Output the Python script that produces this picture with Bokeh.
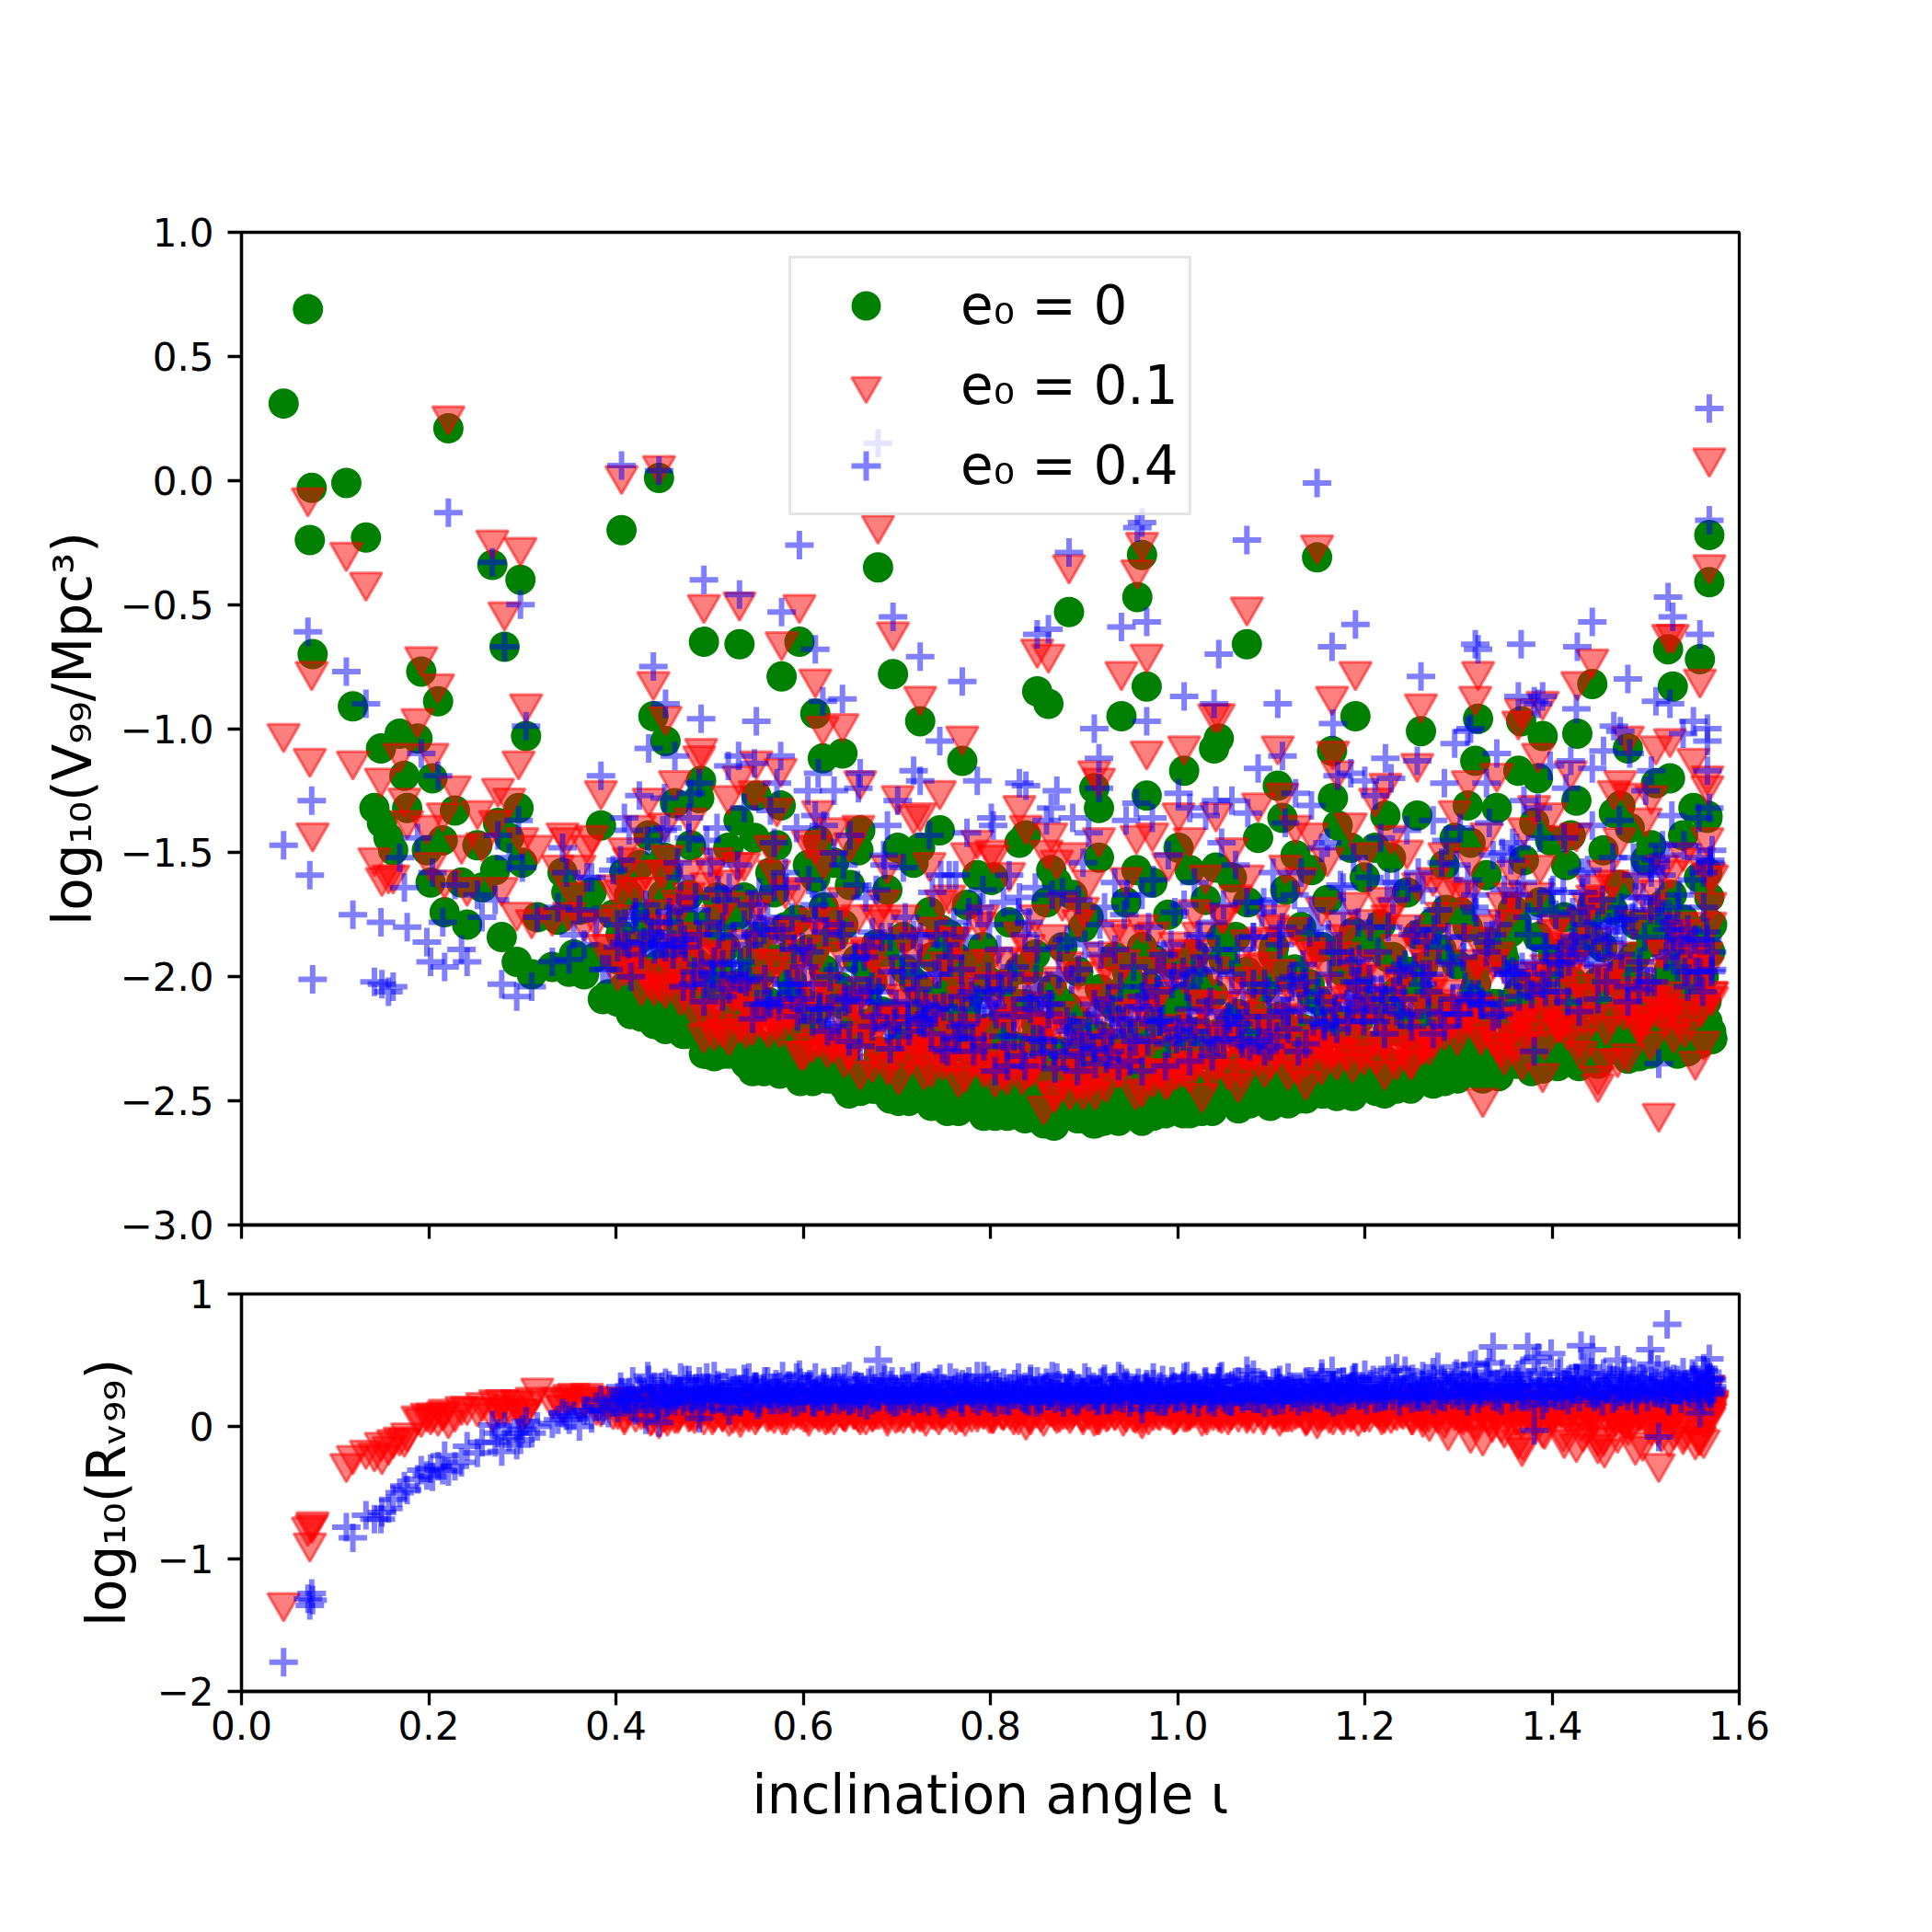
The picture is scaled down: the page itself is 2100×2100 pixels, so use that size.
import numpy as np
from bokeh.plotting import figure
from bokeh.layouts import column
from bokeh.models import Range1d, FixedTicker, Legend, LegendItem
from bokeh.embed import file_html
from bokeh.resources import INLINE

# ---------------- data ----------------
# inclination angle of each simulated source (shared by all three eccentricities)
inclination = [
    0.045, 0.071, 0.075, 0.073, 0.076, 0.112, 0.133, 0.119, 0.221, 0.192,
    0.210, 0.268, 0.298, 0.281, 0.304, 0.149, 0.142, 0.150, 0.157, 0.162,
    0.169, 0.174, 0.177, 0.188, 0.198, 0.204, 0.215, 0.202, 0.228, 0.217,
    0.235, 0.252, 0.241, 0.257, 0.271, 0.278, 0.286, 0.274, 0.296, 0.300,
    0.294, 0.310, 0.316, 0.350, 0.347, 0.369, 0.384, 0.386, 0.406, 0.446,
    0.440, 0.453, 0.435, 0.416, 0.494, 0.489, 0.532, 0.550, 0.577, 0.596,
    0.572, 0.613, 0.621, 0.613, 0.642, 0.659, 0.680, 0.696, 0.725, 0.725,
    0.770, 0.747, 0.801, 0.838, 0.850, 0.862, 0.884, 0.865, 0.911, 0.916,
    0.940, 0.957, 0.962, 0.967, 0.967, 1.007, 1.013, 1.039, 1.044, 1.074,
    1.107, 1.112, 1.149, 1.165, 1.166, 1.190, 1.185, 1.260, 1.310, 1.318,
    1.321, 1.367, 1.364, 1.385, 1.390, 1.427, 1.443, 1.420, 1.481, 1.473,
    1.524, 1.529, 1.558, 1.568, 1.568, 1.566, 1.566, 1.571, 1.506, 1.222,
    1.526,
    0.332, 0.338, 0.343, 0.355, 0.361, 0.366, 0.374, 0.379, 0.392, 0.397,
    0.402, 0.409, 0.413, 0.421, 0.427, 0.432, 0.438, 0.443, 0.449, 0.455,
    0.461, 0.467, 0.472, 0.478, 0.484, 0.491, 0.497, 0.503, 0.509, 0.514,
    0.521, 0.526, 0.533, 0.539, 0.545, 0.551, 0.558, 0.563, 0.569, 0.575,
    0.582, 0.588, 0.594, 0.601, 0.607, 0.612, 0.618, 0.624, 0.631, 0.637,
    0.643, 0.649, 0.655, 0.662, 0.668, 0.674, 0.681, 0.687, 0.693, 0.699,
    0.706, 0.712, 0.718, 0.724, 0.731, 0.737, 0.743, 0.749, 0.756, 0.762,
    0.768, 0.774, 0.781, 0.787, 0.793, 0.799, 0.806, 0.812, 0.818, 0.825,
    0.831, 0.837, 0.843, 0.849, 0.856, 0.862, 0.868, 0.874, 0.881, 0.887,
    0.893, 0.899, 0.905, 0.912, 0.918, 0.924, 0.930, 0.937, 0.943, 0.949,
    0.955, 0.962, 0.968, 0.974, 0.981, 0.987, 0.993, 0.999, 1.006, 1.012,
    1.018, 1.024, 1.031, 1.037, 1.043, 1.049, 1.056, 1.062, 1.068, 1.074,
    1.081, 1.087, 1.093, 1.099, 1.106, 1.112, 1.118, 1.124, 1.131, 1.137,
    1.143, 1.149, 1.156, 1.162, 1.168, 1.174, 1.181, 1.187, 1.193, 1.199,
    1.206, 1.212, 1.218, 1.224, 1.231, 1.237, 1.243, 1.249, 1.256, 1.262,
    1.268, 1.274, 1.281, 1.287, 1.293, 1.299, 1.306, 1.312, 1.318, 1.324,
    1.331, 1.337, 1.343, 1.349, 1.356, 1.362, 1.368, 1.374, 1.381, 1.387,
    1.393, 1.399, 1.406, 1.412, 1.418, 1.424, 1.431, 1.437, 1.443, 1.449,
    1.456, 1.462, 1.468, 1.474, 1.481, 1.487, 1.493, 1.499, 1.505, 1.511,
    1.514, 1.518, 1.523, 1.530, 1.536, 1.542, 1.548, 1.553, 1.558, 1.562,
    1.566, 1.569, 1.571,
    0.402, 0.405, 0.409, 0.414, 0.418, 0.421, 0.425, 0.430, 0.434, 0.437,
    0.441, 0.446, 0.450, 0.453, 0.457, 0.462, 0.466, 0.469, 0.473, 0.478,
    0.482, 0.485, 0.489, 0.494, 0.498, 0.501, 0.505, 0.510, 0.514, 0.517,
    0.521, 0.526, 0.530, 0.533, 0.537, 0.542, 0.546, 0.549, 0.553, 0.558,
    0.562, 0.565, 0.569, 0.574, 0.578, 0.581, 0.585, 0.590, 0.594, 0.597,
    0.601, 0.606, 0.610, 0.613, 0.617, 0.622, 0.626, 0.629, 0.633, 0.638,
    0.642, 0.645, 0.649, 0.654, 0.658, 0.661, 0.665, 0.670, 0.674, 0.677,
    0.681, 0.686, 0.690, 0.693, 0.697, 0.702, 0.706, 0.709, 0.713, 0.718,
    0.722, 0.725, 0.729, 0.734, 0.738, 0.741, 0.745, 0.750, 0.754, 0.757,
    0.761, 0.766, 0.770, 0.773, 0.777, 0.782, 0.786, 0.789, 0.793, 0.798,
    0.802, 0.805, 0.809, 0.814, 0.818, 0.821, 0.825, 0.830, 0.834, 0.837,
    0.841, 0.846, 0.850, 0.853, 0.857, 0.862, 0.866, 0.869, 0.873, 0.878,
    0.882, 0.885, 0.889, 0.894, 0.898, 0.901, 0.905, 0.910, 0.914, 0.917,
    0.921, 0.926, 0.930, 0.933, 0.937, 0.942, 0.946, 0.949, 0.953, 0.958,
    0.962, 0.965, 0.969, 0.974, 0.978, 0.981, 0.985, 0.990, 0.994, 0.997,
    1.001, 1.006, 1.010, 1.013, 1.017, 1.022, 1.026, 1.029, 1.033, 1.038,
    1.042, 1.045, 1.049, 1.054, 1.058, 1.061, 1.065, 1.070, 1.074, 1.077,
    1.081, 1.086, 1.090, 1.093, 1.097, 1.102, 1.106, 1.109, 1.113, 1.118,
    1.122, 1.125, 1.129, 1.134, 1.138, 1.141, 1.145, 1.150, 1.154, 1.157,
    1.161, 1.166, 1.170, 1.173, 1.177, 1.182, 1.186, 1.189, 1.193, 1.198,
    1.202, 1.205, 1.209, 1.214, 1.218, 1.221, 1.225, 1.230, 1.234, 1.237,
    1.241, 1.246, 1.250, 1.253, 1.257, 1.262, 1.266, 1.269, 1.273, 1.278,
    1.282, 1.285, 1.289, 1.294, 1.298, 1.301, 1.305, 1.310, 1.314, 1.317,
    1.321, 1.326, 1.330, 1.333, 1.337, 1.342, 1.346, 1.349, 1.353, 1.358,
    1.362, 1.365, 1.369, 1.374, 1.378, 1.381, 1.385, 1.390, 1.394, 1.397,
    1.401, 1.406, 1.410, 1.413, 1.417, 1.422, 1.426, 1.429, 1.433, 1.438,
    1.442, 1.445, 1.449, 1.454, 1.458, 1.461, 1.465, 1.470, 1.474, 1.477,
    1.481, 1.486, 1.490, 1.493, 1.497, 1.502, 1.506, 1.509, 1.513, 1.518,
    1.522, 1.525, 1.529, 1.534, 1.538, 1.541, 1.545, 1.550, 1.554, 1.557,
    1.561, 1.565, 1.568, 1.570,
    0.452, 0.457, 0.463, 0.469, 0.474, 0.480, 0.486, 0.491, 0.497, 0.503,
    0.508, 0.514, 0.520, 0.525, 0.531, 0.537, 0.542, 0.548, 0.554, 0.559,
    0.565, 0.571, 0.576, 0.582, 0.588, 0.593, 0.599, 0.605, 0.610, 0.616,
    0.622, 0.627, 0.633, 0.639, 0.644, 0.650, 0.656, 0.661, 0.667, 0.673,
    0.678, 0.684, 0.690, 0.695, 0.701, 0.707, 0.712, 0.718, 0.724, 0.729,
    0.735, 0.741, 0.746, 0.752, 0.758, 0.763, 0.769, 0.775, 0.780, 0.786,
    0.792, 0.797, 0.803, 0.809, 0.814, 0.820, 0.826, 0.831, 0.837, 0.843,
    0.848, 0.854, 0.860, 0.865, 0.871, 0.877, 0.882, 0.888, 0.894, 0.899,
    0.905, 0.911, 0.916, 0.922, 0.928, 0.933, 0.939, 0.945, 0.950, 0.956,
    0.962, 0.967, 0.973, 0.979, 0.984, 0.990, 0.996, 1.001, 1.007, 1.013,
    1.018, 1.024, 1.030, 1.035, 1.041, 1.047, 1.052, 1.058, 1.064, 1.069,
    1.075, 1.081, 1.086, 1.092, 1.098, 1.103, 1.109, 1.115, 1.120, 1.126,
    1.132, 1.137, 1.143, 1.149, 1.154, 1.160, 1.166, 1.171, 1.177, 1.183,
    1.188, 1.194, 1.200, 1.205, 1.211, 1.217, 1.222, 1.228, 1.234, 1.239,
    1.245, 1.251, 1.256, 1.262, 1.268, 1.273, 1.279, 1.285, 1.290, 1.296,
    1.302, 1.307, 1.313, 1.319, 1.324, 1.330, 1.336, 1.341, 1.347, 1.353,
    1.358, 1.364, 1.370, 1.375, 1.381, 1.387, 1.392, 1.398, 1.404, 1.409,
    1.415, 1.421, 1.426, 1.432, 1.438, 1.443, 1.449, 1.455, 1.460, 1.466,
    1.472, 1.477, 1.483, 1.489, 1.494, 1.500, 1.506, 1.511, 1.517, 1.523,
    1.528, 1.534, 1.540, 1.545, 1.551, 1.557, 1.562, 1.566, 1.569, 1.571,
]

# log10(V99 / Mpc^3) for e0 = 0
log_v99_e0 = [
    0.31, 0.69, -0.03, -0.24, -0.70, -0.01, -0.23, -0.91, 0.21, -0.77,
    -0.89, -0.34, -0.40, -0.67, -1.03, -1.08, -1.32, -1.38, -1.44, -1.49,
    -1.02, -1.19, -1.32, -1.04, -1.49, -1.20, -1.45, -1.62, -1.33, -1.74,
    -1.62, -1.47, -1.79, -1.64, -1.57, -1.84, -1.44, -1.38, -1.32, -1.54,
    -1.94, -1.99, -1.76, -1.98, -1.66, -1.72, -1.39, -2.09, -0.20, 0.01,
    -0.95, -1.05, -1.43, -2.15, -0.65, -1.28, -0.66, -1.27, -0.79, -0.65,
    -1.47, -0.94, -1.12, -1.60, -1.10, -1.49, -0.35, -0.78, -0.97, -1.48,
    -1.13, -1.81, -1.61, -1.43, -0.85, -0.90, -0.53, -1.57, -1.24, -1.32,
    -0.95, -0.47, -0.30, -0.83, -1.27, -1.17, -1.57, -1.08, -1.04, -0.66,
    -1.23, -1.36, -0.31, -1.09, -1.28, -0.95, -1.48, -1.01, -1.31, -1.13,
    -0.96, -0.97, -1.17, -1.20, -1.03, -1.02, -0.82, -1.43, -1.08, -1.31,
    -0.68, -0.83, -0.72, -0.22, -0.41, -1.36, -1.58, -1.79, -1.47, -1.35,
    -1.20,
    -1.96, -1.77, -1.58, -1.91, -1.73, -1.99, -1.66, -1.92, -2.07, -1.75,
    -1.93, -1.58, -2.07, -1.86, -2.16, -1.76, -2.10, -2.03, -2.17, -1.58,
    -2.13, -1.98, -2.23, -1.79, -2.22, -2.09, -2.31, -2.19, -1.96, -2.31,
    -1.76, -2.26, -2.12, -2.35, -1.93, -2.27, -2.10, -2.34, -1.66, -2.39,
    -2.24, -2.02, -2.35, -2.40, -2.22, -1.89, -2.35, -2.10, -2.41, -2.31,
    -1.79, -2.45, -2.20, -2.40, -2.04, -2.45, -2.32, -1.90, -2.49, -2.39,
    -2.21, -2.47, -2.02, -2.43, -2.33, -2.52, -2.16, -2.46, -1.83, -2.52,
    -2.41, -2.14, -2.50, -2.32, -2.56, -2.02, -2.47, -2.25, -2.54, -2.40,
    -1.97, -2.57, -2.47, -2.19, -2.53, -2.38, -2.60, -2.10, -2.51, -2.32,
    -2.57, -1.80, -2.46, -2.59, -2.24, -2.53, -2.40, -2.58, -2.05, -2.49,
    -2.55, -2.29, -2.52, -1.93, -2.42, -2.55, -2.15, -2.48, -2.55, -2.33,
    -2.49, -2.08, -2.44, -2.54, -2.23, -2.50, -2.36, -1.84, -2.51, -2.39,
    -2.15, -2.47, -2.31, -2.52, -2.42, -2.00, -2.48, -2.25, -2.43, -2.49,
    -2.07, -2.38, -2.47, -2.20, -2.44, -1.89, -2.34, -2.48, -2.29, -2.42,
    -2.12, -2.46, -2.34, -1.92, -2.43, -2.22, -2.37, -2.45, -2.05, -2.34,
    -2.41, -2.16, -2.38, -1.73, -2.28, -2.41, -2.22, -2.34, -1.97, -2.37,
    -2.27, -2.11, -2.40, -2.30, -1.82, -2.35, -2.18, -2.36, -2.27, -2.04,
    -2.32, -2.21, -2.36, -1.90, -2.29, -2.12, -2.33, -2.23, -1.74, -2.35,
    -2.16, -2.29, -2.02, -2.24, -2.31, -1.92, -2.26, -2.18, -2.31, -1.78,
    -2.27, -2.07, -2.28, -2.20, -1.94, -2.30, -2.11, -2.23, -2.27, -2.00,
    -2.18, -1.80, -2.25,
    -2.10, -1.83, -2.04, -1.67, -2.11, -1.96, -1.55, -2.10, -1.83, -2.05,
    -2.19, -1.95, -1.67, -2.21, -1.94, -2.15, -1.78, -2.22, -2.07, -1.67,
    -2.21, -1.94, -2.17, -2.31, -2.07, -1.78, -2.32, -2.05, -2.25, -1.88,
    -2.31, -2.17, -1.75, -2.29, -2.02, -2.24, -2.38, -2.13, -1.84, -2.38,
    -2.10, -2.31, -1.93, -2.36, -2.22, -1.80, -2.34, -2.07, -2.29, -2.42,
    -2.17, -1.89, -2.42, -2.14, -2.35, -1.97, -2.41, -2.26, -1.84, -2.39,
    -2.11, -2.33, -2.47, -2.22, -1.93, -2.46, -2.19, -2.39, -2.02, -2.45,
    -2.30, -1.88, -2.43, -2.15, -2.37, -2.50, -2.26, -1.97, -2.50, -2.23,
    -2.43, -2.05, -2.49, -2.34, -1.92, -2.46, -2.19, -2.41, -2.54, -2.29,
    -2.00, -2.54, -2.26, -2.46, -2.08, -2.51, -2.37, -1.95, -2.49, -2.21,
    -2.43, -2.56, -2.32, -2.03, -2.56, -2.28, -2.48, -2.11, -2.54, -2.39,
    -1.97, -2.51, -2.23, -2.46, -2.59, -2.34, -2.05, -2.58, -2.30, -2.50,
    -2.12, -2.55, -2.40, -1.98, -2.52, -2.24, -2.46, -2.59, -2.34, -2.05,
    -2.58, -2.30, -2.50, -2.12, -2.55, -2.40, -1.98, -2.52, -2.23, -2.45,
    -2.58, -2.33, -2.04, -2.56, -2.28, -2.48, -2.10, -2.53, -2.37, -1.95,
    -2.49, -2.21, -2.42, -2.55, -2.30, -2.01, -2.54, -2.25, -2.45, -2.07,
    -2.50, -2.35, -1.93, -2.46, -2.18, -2.40, -2.53, -2.27, -1.98, -2.51,
    -2.23, -2.43, -2.05, -2.48, -2.33, -1.91, -2.44, -2.16, -2.38, -2.51,
    -2.26, -1.97, -2.49, -2.21, -2.41, -2.03, -2.46, -2.30, -1.88, -2.42,
    -2.14, -2.36, -2.48, -2.23, -1.94, -2.47, -2.19, -2.39, -2.01, -2.44,
    -2.29, -1.87, -2.40, -2.12, -2.34, -2.47, -2.22, -1.92, -2.45, -2.17,
    -2.37, -1.98, -2.41, -2.26, -1.83, -2.37, -2.09, -2.31, -2.43, -2.18,
    -1.89, -2.42, -2.13, -2.33, -1.95, -2.38, -2.23, -1.80, -2.34, -2.06,
    -2.28, -2.41, -2.16, -1.86, -2.39, -2.11, -2.31, -1.93, -2.35, -2.20,
    -1.78, -2.32, -2.04, -2.26, -2.38, -2.13, -1.84, -2.37, -2.09, -2.29,
    -1.91, -2.34, -2.18, -1.76, -2.30, -2.02, -2.24, -2.36, -2.11, -1.82,
    -2.34, -2.06, -2.26, -1.88, -2.30, -2.15, -1.73, -2.27, -1.98, -2.20,
    -2.33, -2.08, -1.79, -2.32, -2.04, -2.24, -1.86, -2.28, -2.13, -1.71,
    -2.25, -1.97, -2.18, -2.31, -2.06, -1.77, -2.30, -2.01, -2.21, -1.83,
    -2.26, -2.10, -1.68, -2.22,
    -1.52, -2.09, -1.30, -1.87, -2.23, -1.47, -2.02, -1.21, -1.82, -2.21,
    -1.68, -2.02, -1.48, -2.14, -1.37, -1.68, -2.23, -1.44, -1.99, -2.35,
    -1.58, -2.13, -1.31, -1.92, -2.30, -1.77, -2.10, -1.55, -2.22, -1.45,
    -1.72, -2.34, -1.54, -2.04, -2.44, -1.63, -2.23, -1.41, -1.96, -2.39,
    -1.87, -2.14, -1.65, -2.32, -1.48, -1.84, -2.34, -1.54, -2.16, -2.46,
    -1.74, -2.23, -1.41, -2.07, -2.40, -1.92, -2.19, -1.71, -2.31, -1.59,
    -1.88, -2.40, -1.60, -2.19, -2.50, -1.78, -2.28, -1.46, -2.11, -2.45,
    -1.91, -2.28, -1.70, -2.36, -1.62, -1.88, -2.47, -1.67, -2.18, -2.57,
    -1.76, -2.34, -1.52, -2.08, -2.50, -1.92, -2.29, -1.70, -2.39, -1.57,
    -1.88, -2.45, -1.62, -2.17, -2.52, -1.75, -2.30, -1.48, -2.08, -2.46,
    -1.91, -2.22, -1.69, -2.32, -1.56, -1.84, -2.39, -1.60, -2.15, -2.50,
    -1.70, -2.24, -1.44, -2.02, -2.40, -1.88, -2.18, -1.65, -2.31, -1.51,
    -1.80, -2.35, -1.57, -2.09, -2.47, -1.69, -2.21, -1.39, -1.98, -2.36,
    -1.82, -2.17, -1.60, -2.28, -1.48, -1.79, -2.34, -1.52, -2.06, -2.41,
    -1.66, -2.19, -1.35, -1.96, -2.34, -1.78, -2.12, -1.55, -2.21, -1.44,
    -1.74, -2.27, -1.46, -2.03, -2.36, -1.59, -2.14, -1.32, -1.90, -2.27,
    -1.73, -2.06, -1.53, -2.16, -1.38, -1.70, -2.23, -1.45, -1.98, -2.33,
    -1.55, -2.11, -1.29, -1.86, -2.24, -1.71, -2.02, -1.49, -2.14, -1.34,
    -1.63, -2.20, -1.40, -1.92, -2.30, -1.53, -2.05, -1.22, -1.84, -2.20,
    -1.67, -1.99, -1.43, -2.10, -1.32, -1.60, -2.16, -1.35, -1.90, -2.25,
]

# log10(R_V99) = log10(V99(e0) / V99(e0 = 0)), e0 = 0.1
log_rv99_e01 = [
    -1.33, -0.76, -0.74, -0.88, -0.72, -0.28, -0.18, -0.22, 0.05, 0.06,
    0.07, 0.10, 0.13, 0.14, 0.13, -0.12, -0.20, -0.22, -0.15, -0.10,
    -0.08, -0.09, -0.05, 0.08, 0.10, 0.10, 0.11, 0.08, 0.10, 0.13,
    0.15, 0.14, 0.15, 0.18, 0.20, 0.20, 0.16, 0.14, 0.19, 0.10,
    0.20, 0.22, 0.29, 0.24, 0.22, 0.25, 0.14, 0.22, 0.22, 0.05,
    0.14, 0.10, 0.15, 0.20, 0.15, 0.17, 0.17, 0.14, 0.14, 0.15,
    0.15, 0.14, 0.13, 0.13, 0.12, 0.10, 0.17, 0.17, 0.10, 0.14,
    0.10, 0.12, 0.12, 0.04, 0.17, 0.20, 0.19, 0.15, 0.07, 0.12,
    0.18, 0.11, 0.05, 0.13, 0.18, 0.10, 0.13, 0.14, 0.10, 0.15,
    0.16, 0.10, 0.05, 0.22, 0.19, 0.18, 0.10, 0.11, 0.10, 0.26,
    0.19, 0.05, 0.20, 0.10, 0.14, 0.21, 0.10, 0.26, 0.05, 0.10,
    0.06, 0.21, -0.08, 0.31, 0.07, 0.13, 0.14, 0.20, 0.20, 0.13,
    0.16,
    0.20, 0.22, 0.16, 0.25, 0.18, 0.21, 0.23, 0.15, 0.20, 0.12,
    0.18, 0.10, 0.15, 0.22, 0.12, 0.19, 0.08, 0.24, 0.14, 0.07,
    0.17, 0.11, 0.20, 0.13, 0.09, 0.18, 0.16, 0.12, 0.21, 0.10,
    0.15, 0.19, 0.06, 0.14, 0.20, 0.11, 0.17, 0.13, 0.09, 0.18,
    0.12, 0.22, 0.15, 0.10, 0.16, 0.13, 0.20, 0.08, 0.14, 0.18,
    0.11, 0.16, 0.12, 0.21, 0.15, 0.10, 0.17, 0.13, 0.19, 0.09,
    0.14, 0.18, 0.11, 0.22, 0.07, 0.15, 0.19, 0.12, 0.16, 0.20,
    0.10, 0.14, 0.17, 0.13, 0.21, 0.09, 0.16, 0.12, 0.18, 0.08,
    0.15, 0.19, 0.11, 0.17, 0.13, 0.20, 0.14, 0.10, 0.18, 0.12,
    0.16, 0.08, 0.19, 0.13, 0.17, 0.10, 0.15, 0.21, 0.12, 0.16,
    0.09, 0.18, 0.14, 0.11, 0.20, 0.13, 0.16, 0.10, 0.18, 0.12,
    0.15, 0.19, 0.08, 0.16, 0.13, 0.21, 0.11, 0.17, 0.14, 0.09,
    0.20, 0.15, 0.12, 0.18, 0.13, 0.16, 0.10, 0.19, 0.14, 0.07,
    0.17, 0.12, 0.20, 0.09, 0.15, 0.11, 0.18, 0.13, 0.16, 0.10,
    0.19, 0.14, 0.08, 0.17, 0.12, 0.20, 0.15, 0.11, 0.18, 0.06,
    0.16, 0.13, 0.21, 0.09, 0.14, 0.17, 0.11, 0.19, 0.04, 0.15,
    0.10, 0.18, 0.13, -0.02, 0.16, 0.08, -0.16, 0.12, 0.20, 0.06,
    0.15, 0.10, 0.17, -0.05, 0.13, 0.19, 0.03, 0.16, 0.11, -0.08,
    -0.17, 0.14, 0.07, 0.18, 0.00, 0.15, 0.10, 0.21, 0.05, 0.13,
    -0.28, 0.18, 0.12, -0.03, 0.16, 0.09, 0.20, -0.11, 0.14, 0.06,
    0.22, 0.10, 0.17,
    0.12, 0.18, 0.08, 0.15, 0.21, 0.10, 0.16, 0.13, 0.19, 0.07,
    0.15, 0.22, 0.10, 0.16, 0.11, 0.18, 0.09, 0.14, 0.20, 0.10,
    0.17, 0.12, 0.19, 0.08, 0.15, 0.22, 0.10, 0.16, 0.11, 0.18,
    0.07, 0.15, 0.21, 0.10, 0.17, 0.12, 0.18, 0.08, 0.14, 0.20,
    0.10, 0.16, 0.13, 0.19, 0.08, 0.15, 0.21, 0.11, 0.17, 0.12,
    0.18, 0.07, 0.15, 0.22, 0.10, 0.16, 0.12, 0.19, 0.08, 0.14,
    0.21, 0.10, 0.17, 0.12, 0.18, 0.08, 0.15, 0.20, 0.11, 0.16,
    0.12, 0.19, 0.07, 0.15, 0.21, 0.10, 0.17, 0.13, 0.18, 0.09,
    0.15, 0.20, 0.11, 0.16, 0.12, 0.19, 0.08, 0.14, 0.22, 0.10,
    0.16, 0.13, 0.18, 0.07, 0.15, 0.21, 0.10, 0.17, 0.12, 0.19,
    0.09, 0.15, 0.20, 0.11, 0.16, 0.12, 0.18, 0.08, 0.14, 0.21,
    0.10, 0.17, 0.13, 0.19, 0.07, 0.15, 0.22, 0.11, 0.16, 0.12,
    0.18, 0.09, 0.14, 0.21, 0.10, 0.16, 0.12, 0.19, 0.08, 0.15,
    0.20, 0.11, 0.17, 0.12, 0.18, 0.07, 0.15, 0.21, 0.10, 0.16,
    0.13, 0.19, 0.08, 0.15, 0.20, 0.11, 0.17, 0.12, 0.18, 0.09,
    0.14, 0.22, 0.10, 0.16, 0.13, 0.19, 0.07, 0.15, 0.21, 0.11,
    0.16, 0.12, 0.18, 0.08, 0.14, 0.20, 0.10, 0.17, 0.13, 0.19,
    0.09, 0.15, 0.21, 0.11, 0.16, 0.12, 0.18, 0.07, 0.14, 0.20,
    0.10, 0.17, 0.13, 0.19, 0.08, 0.15, 0.22, 0.10, 0.16, 0.12,
    0.18, 0.08, 0.14, 0.20, 0.11, 0.17, 0.12, 0.19, 0.07, 0.15,
    0.21, 0.10, 0.16, 0.13, 0.18, 0.09, 0.15, 0.20, 0.11, 0.17,
    0.12, 0.19, 0.08, 0.14, 0.21, 0.10, 0.16, 0.03, 0.18, 0.09,
    0.15, 0.20, -0.04, 0.16, 0.12, 0.19, 0.08, 0.14, 0.22, 0.10,
    0.17, -0.08, 0.18, 0.07, 0.15, 0.21, 0.02, 0.16, 0.12, 0.19,
    0.08, 0.15, -0.12, 0.11, 0.17, 0.12, 0.18, -0.02, 0.14, 0.20,
    0.10, 0.16, 0.13, -0.10, 0.08, 0.15, 0.21, 0.11, -0.05, 0.12,
    0.18, 0.07, -0.14, 0.20, 0.10, 0.16, 0.12, -0.06, 0.08, 0.14,
    0.21, 0.04, 0.17, 0.12, -0.12, 0.08, 0.15, 0.20, 0.00, 0.16,
    0.12, -0.09, 0.07, 0.15, 0.21, -0.04, 0.17, 0.13, 0.18, -0.07,
    0.15, 0.20, 0.10, 0.16,
    0.14, 0.19, 0.09, 0.16, 0.22, 0.11, 0.17, 0.13, 0.20, 0.08,
    0.16, 0.12, 0.21, 0.09, 0.18, 0.14, 0.10, 0.19, 0.13, 0.17,
    0.11, 0.20, 0.15, 0.08, 0.17, 0.13, 0.21, 0.10, 0.16, 0.12,
    0.19, 0.09, 0.14, 0.22, 0.11, 0.17, 0.13, 0.20, 0.08, 0.15,
    0.12, 0.18, 0.10, 0.16, 0.21, 0.09, 0.14, 0.19, 0.12, 0.17,
    0.20, 0.11, 0.16, 0.13, 0.18, 0.08, 0.15, 0.21, 0.10, 0.14,
    0.13, 0.19, 0.09, 0.17, 0.12, 0.20, 0.11, 0.15, 0.18, 0.08,
    0.16, 0.10, 0.21, 0.14, 0.09, 0.18, 0.12, 0.17, 0.20, 0.11,
    0.15, 0.22, 0.08, 0.13, 0.19, 0.11, 0.16, 0.10, 0.18, 0.14,
    0.09, 0.17, 0.20, 0.12, 0.15, 0.21, 0.08, 0.14, 0.19, 0.11,
    0.18, 0.13, 0.10, 0.16, 0.22, 0.09, 0.17, 0.12, 0.15, 0.20,
    0.11, 0.19, 0.14, 0.08, 0.18, 0.13, 0.21, 0.10, 0.16, 0.12,
    0.20, 0.09, 0.15, 0.19, 0.11, 0.17, 0.13, 0.22, 0.08, 0.14,
    0.12, 0.18, 0.10, 0.16, 0.20, 0.11, 0.15, 0.09, 0.19, 0.13,
    0.17, 0.08, 0.21, 0.13, 0.10, 0.18, 0.14, 0.05, 0.16, 0.11,
    0.09, 0.15, -0.06, 0.19, 0.12, 0.17, 0.02, 0.14, 0.20, 0.10,
    0.16, -0.10, 0.13, 0.18, 0.07, 0.15, -0.03, 0.11, 0.19, 0.14,
    0.12, 0.17, -0.13, 0.10, 0.16, 0.04, 0.18, -0.08, 0.13, 0.09,
    0.19, 0.06, 0.14, -0.15, 0.11, 0.17, 0.00, 0.15, -0.05, 0.12,
    0.10, 0.18, -0.07, 0.14, 0.20, 0.08, -0.10, 0.16, 0.12, 0.19,
]

# log10(R_V99), e0 = 0.4
log_rv99_e04 = [
    -1.78, -1.30, -1.26, -1.35, -1.31, -0.76, -0.67, -0.84, -0.34, -0.33,
    -0.30, 0.01, -0.10, 0.00, 0.04, -0.70, -0.70, -0.65, -0.62, -0.55,
    -0.50, -0.45, -0.48, -0.40, -0.37, -0.38, -0.33, -0.32, -0.30, -0.22,
    -0.27, -0.20, -0.15, -0.12, -0.12, -0.19, -0.08, -0.05, -0.05, -0.02,
    -0.14, -0.05, 0.00, 0.05, 0.08, 0.12, 0.20, 0.12, 0.26, 0.03,
    0.20, 0.15, 0.35, 0.15, 0.25, 0.06, 0.20, 0.30, 0.26, 0.39,
    0.25, 0.26, 0.23, 0.25, 0.22, 0.25, 0.50, 0.23, 0.26, 0.27,
    0.32, 0.22, 0.25, 0.20, 0.23, 0.30, 0.24, 0.25, 0.24, 0.20,
    0.36, 0.28, 0.13, 0.26, 0.30, 0.30, 0.25, 0.18, 0.34, 0.42,
    0.33, 0.25, 0.30, 0.42, 0.30, 0.37, 0.30, 0.22, 0.30, 0.47,
    0.28, 0.31, 0.30, 0.30, 0.16, 0.35, 0.25, 0.30, 0.28, 0.30,
    0.21, 0.28, 0.10, 0.51, 0.25, 0.36, 0.41, 0.30, 0.30, 0.23,
    0.30,
    0.02, 0.05, 0.10, 0.08, 0.00, 0.12, 0.06, 0.15, 0.10, 0.18,
    0.14, 0.22, 0.20, 0.12, 0.25, 0.05, 0.28, 0.16, 0.30, 0.18,
    0.22, 0.26, 0.19, 0.35, 0.24, 0.14, 0.28, 0.20, 0.31, 0.23,
    0.12, 0.27, 0.18, 0.33, 0.22, 0.16, 0.29, 0.24, 0.20, 0.30,
    0.21, 0.26, 0.19, 0.27, 0.32, 0.18, 0.23, 0.28, 0.21, 0.34,
    0.24, 0.19, 0.27, 0.30, 0.16, 0.25, 0.22, 0.35, 0.20, 0.28,
    0.23, 0.31, 0.19, 0.26, 0.22, 0.29, 0.33, 0.17, 0.24, 0.27,
    0.21, 0.30, 0.25, 0.19, 0.28, 0.23, 0.32, 0.20, 0.26, 0.24,
    0.29, 0.21, 0.34, 0.18, 0.27, 0.23, 0.30, 0.22, 0.25, 0.31,
    0.19, 0.26, 0.28, 0.24, 0.33, 0.20, 0.27, 0.22, 0.30, 0.25,
    0.29, 0.21, 0.26, 0.32, 0.24, 0.19, 0.28, 0.23, 0.31, 0.20,
    0.27, 0.24, 0.30, 0.22, 0.34, 0.25, 0.19, 0.29, 0.26, 0.23,
    0.31, 0.21, 0.28, 0.24, 0.33, 0.20, 0.27, 0.25, 0.30, 0.22,
    0.34, 0.24, 0.28, 0.21, 0.31, 0.26, 0.23, 0.35, 0.27, 0.24,
    0.32, 0.28, 0.22, 0.30, 0.37, 0.25, 0.42, 0.29, 0.24, 0.31,
    0.27, 0.35, 0.23, 0.28, 0.33, 0.26, 0.38, 0.24, 0.30, 0.27,
    0.41, 0.60, 0.25, 0.33, 0.29, 0.36, 0.22, 0.60, -0.03, 0.31,
    0.26, 0.55, 0.30, 0.24, 0.35, 0.28, 0.61, 0.32, 0.58, 0.26,
    0.30, 0.37, 0.23, 0.33, 0.27, 0.40, 0.29, 0.34, 0.58, 0.25,
    -0.08, 0.31, 0.77, 0.36, 0.27, 0.32, 0.24, 0.38, 0.29, 0.42,
    0.33, 0.26, 0.35,
    0.22, 0.30, 0.18, 0.26, 0.34, 0.20, 0.28, 0.24, 0.38, 0.21,
    0.30, 0.17, 0.26, 0.33, 0.20, 0.28, 0.24, 0.37, 0.22, 0.31,
    0.18, 0.26, 0.34, 0.21, 0.29, 0.24, 0.38, 0.22, 0.30, 0.19,
    0.26, 0.33, 0.20, 0.28, 0.23, 0.37, 0.21, 0.30, 0.18, 0.27,
    0.34, 0.20, 0.29, 0.24, 0.38, 0.22, 0.31, 0.18, 0.26, 0.33,
    0.21, 0.28, 0.24, 0.37, 0.22, 0.30, 0.19, 0.26, 0.34, 0.20,
    0.28, 0.23, 0.38, 0.21, 0.30, 0.18, 0.27, 0.33, 0.20, 0.29,
    0.24, 0.37, 0.22, 0.31, 0.18, 0.26, 0.34, 0.21, 0.28, 0.23,
    0.38, 0.21, 0.30, 0.19, 0.26, 0.33, 0.20, 0.29, 0.24, 0.37,
    0.22, 0.30, 0.18, 0.27, 0.34, 0.21, 0.28, 0.23, 0.38, 0.21,
    0.31, 0.18, 0.26, 0.33, 0.20, 0.29, 0.24, 0.37, 0.22, 0.30,
    0.19, 0.26, 0.34, 0.21, 0.28, 0.23, 0.38, 0.21, 0.31, 0.18,
    0.27, 0.33, 0.20, 0.29, 0.24, 0.37, 0.22, 0.30, 0.19, 0.26,
    0.34, 0.21, 0.28, 0.23, 0.38, 0.21, 0.31, 0.18, 0.27, 0.33,
    0.20, 0.29, 0.24, 0.37, 0.22, 0.30, 0.19, 0.26, 0.34, 0.21,
    0.28, 0.23, 0.38, 0.21, 0.31, 0.18, 0.27, 0.33, 0.20, 0.29,
    0.24, 0.37, 0.22, 0.30, 0.19, 0.26, 0.34, 0.21, 0.28, 0.23,
    0.39, 0.21, 0.31, 0.18, 0.27, 0.33, 0.20, 0.29, 0.24, 0.37,
    0.22, 0.30, 0.19, 0.26, 0.34, 0.21, 0.28, 0.24, 0.40, 0.22,
    0.31, 0.18, 0.27, 0.33, 0.20, 0.29, 0.25, 0.37, 0.23, 0.30,
    0.20, 0.27, 0.35, 0.22, 0.29, 0.24, 0.42, 0.23, 0.31, 0.19,
    0.28, 0.34, 0.21, 0.30, 0.25, 0.38, 0.23, 0.32, 0.20, 0.45,
    0.35, 0.22, 0.29, 0.24, 0.40, 0.23, 0.31, 0.19, 0.27, 0.34,
    0.21, 0.30, 0.26, 0.48, 0.23, 0.32, 0.20, 0.28, 0.36, 0.22,
    0.30, 0.24, 0.42, 0.22, 0.31, 0.19, 0.52, 0.34, 0.21, 0.30,
    0.26, 0.40, 0.23, 0.32, 0.20, 0.28, 0.36, 0.22, 0.45, 0.25,
    0.41, 0.22, 0.31, 0.19, 0.28, 0.35, 0.21, 0.50, 0.26, 0.38,
    0.23, 0.32, 0.20, 0.27, 0.36, 0.22, 0.30, 0.26, 0.43, 0.24,
    0.33, 0.19, 0.28, 0.35, 0.21, 0.30, 0.26, 0.40, 0.23, 0.31,
    0.20, 0.28, 0.36, 0.24,
    0.24, 0.31, 0.19, 0.27, 0.35, 0.21, 0.29, 0.25, 0.37, 0.20,
    0.28, 0.22, 0.33, 0.19, 0.26, 0.36, 0.23, 0.30, 0.21, 0.34,
    0.25, 0.32, 0.20, 0.28, 0.24, 0.37, 0.22, 0.30, 0.19, 0.27,
    0.33, 0.21, 0.29, 0.25, 0.36, 0.20, 0.31, 0.23, 0.28, 0.35,
    0.22, 0.30, 0.26, 0.34, 0.19, 0.28, 0.24, 0.37, 0.21, 0.29,
    0.31, 0.24, 0.36, 0.20, 0.27, 0.33, 0.22, 0.29, 0.25, 0.38,
    0.23, 0.35, 0.21, 0.30, 0.26, 0.19, 0.32, 0.24, 0.28, 0.36,
    0.27, 0.20, 0.33, 0.25, 0.37, 0.22, 0.29, 0.31, 0.21, 0.26,
    0.34, 0.23, 0.28, 0.36, 0.20, 0.30, 0.25, 0.33, 0.22, 0.27,
    0.21, 0.32, 0.26, 0.19, 0.35, 0.24, 0.30, 0.22, 0.37, 0.28,
    0.29, 0.25, 0.34, 0.22, 0.27, 0.38, 0.20, 0.31, 0.26, 0.23,
    0.36, 0.21, 0.28, 0.32, 0.24, 0.19, 0.35, 0.27, 0.30, 0.25,
    0.22, 0.33, 0.26, 0.29, 0.37, 0.23, 0.31, 0.20, 0.34, 0.28,
    0.30, 0.24, 0.39, 0.27, 0.21, 0.35, 0.25, 0.32, 0.44, 0.26,
    0.25, 0.36, 0.22, 0.31, 0.28, 0.41, 0.24, 0.33, 0.27, 0.38,
    0.34, 0.23, 0.46, 0.29, 0.25, 0.37, 0.31, 0.22, 0.40, 0.28,
    0.27, 0.39, 0.24, 0.33, 0.49, 0.26, 0.35, 0.30, 0.23, 0.42,
    0.31, 0.25, 0.37, 0.28, 0.45, 0.32, 0.24, 0.40, 0.29, 0.35,
    0.26, 0.43, 0.30, 0.24, 0.36, 0.28, 0.47, 0.33, 0.25, 0.39,
    0.32, 0.27, 0.41, 0.29, 0.35, 0.24, 0.44, 0.30, 0.37, 0.28,
]

series_labels = ["e₀ = 0", "e₀ = 0.1", "e₀ = 0.4"]
x_ticks = [0.0, 0.2, 0.4, 0.6, 0.8, 1.0, 1.2, 1.4, 1.6]
x_tick_labels = ["0.0", "0.2", "0.4", "0.6", "0.8", "1.0", "1.2", "1.4", "1.6"]
top_y_ticks = [-3.0, -2.5, -2.0, -1.5, -1.0, -0.5, 0.0, 0.5, 1.0]
top_y_tick_labels = ["−3.0", "−2.5", "−2.0", "−1.5", "−1.0", "−0.5", "0.0", "0.5", "1.0"]
bot_y_ticks = [-2, -1, 0, 1]
bot_y_tick_labels = ["−2", "−1", "0", "1"]

n = len(inclination)
assert len(log_v99_e0) == n and len(log_rv99_e01) == n and len(log_rv99_e04) == n, \
    (n, len(log_v99_e0), len(log_rv99_e01), len(log_rv99_e04))

x = np.array(inclination)
v_e0 = np.array(log_v99_e0)
r_e01 = np.array(log_rv99_e01)
r_e04 = np.array(log_rv99_e04)
# the upper panel values of the eccentric runs follow from log V(e0) = log V(0) + log R
v_e01 = v_e0 + r_e01
v_e04 = v_e0 + r_e04

FONT = "DejaVu Sans"
TICK_PX = "42px"
LABEL_PX = "58px"
LW = 3.3


def style(p):
    p.xgrid.visible = False
    p.ygrid.visible = False
    p.outline_line_color = "black"
    p.outline_line_width = LW
    p.outline_line_alpha = 1.0
    p.background_fill_color = "white"
    p.border_fill_color = "white"
    for ax in (p.xaxis[0], p.yaxis[0]):
        ax.axis_line_width = LW
        ax.axis_line_color = "black"
        ax.major_tick_line_width = LW
        ax.major_tick_line_color = "black"
        ax.major_tick_out = 15
        ax.major_tick_in = 0
        ax.minor_tick_line_color = None
        ax.major_label_text_font = FONT
        ax.major_label_text_font_size = TICK_PX
        ax.major_label_text_color = "black"
        ax.axis_label_text_font = FONT
        ax.axis_label_text_font_size = LABEL_PX
        ax.axis_label_text_font_style = "normal"
        ax.axis_label_text_color = "black"
    p.xaxis[0].major_label_standoff = 6
    p.yaxis[0].major_label_standoff = 15


GREEN = dict(marker="circle", size=33, fill_color="green", line_color=None)
RED = dict(marker="inverted_triangle", size=35, fill_color="red", fill_alpha=0.5,
           line_color="red", line_alpha=0.5, line_width=3)
BLUE = dict(marker="cross", size=31, line_color="blue", line_alpha=0.5, line_width=6)

# ---------------- upper panel ----------------
p1 = figure(frame_width=1628, frame_height=1079,
            x_range=Range1d(0, 1.6), y_range=Range1d(-3, 1),
            output_backend="svg", toolbar_location=None,
            min_border_left=262, min_border_right=60,
            min_border_top=252, min_border_bottom=40)
style(p1)
rg = p1.scatter(x, v_e0, **GREEN)
rr = p1.scatter(x, v_e01, **RED)
rb = p1.scatter(x, v_e04, **BLUE)

p1.xaxis.ticker = FixedTicker(ticks=x_ticks)
p1.xaxis.major_label_overrides = {t: "" for t in x_ticks}
p1.xaxis.major_label_text_font_size = "1px"
p1.xaxis.major_label_standoff = 0
p1.yaxis.ticker = FixedTicker(ticks=top_y_ticks)
p1.yaxis.major_label_overrides = dict(zip(top_y_ticks, top_y_tick_labels))
p1.yaxis.axis_label = "log₁₀(V₉₉/Mpc³)"
p1.yaxis.axis_label_standoff = 15

legend = Legend(items=[LegendItem(label=series_labels[0], renderers=[rg]),
                       LegendItem(label=series_labels[1], renderers=[rr]),
                       LegendItem(label=series_labels[2], renderers=[rb])],
                location=(595, 771))
legend.label_text_font = FONT
legend.label_text_font_size = LABEL_PX
legend.label_text_color = "black"
legend.glyph_width = 140
legend.glyph_height = 80
legend.label_height = 80
legend.label_standoff = 33
legend.spacing = 7
legend.padding = 11
legend.margin = 0
legend.border_line_color = "#cccccc"
legend.border_line_width = 3
legend.background_fill_color = "white"
legend.background_fill_alpha = 0.8
p1.add_layout(legend)

# ---------------- lower panel ----------------
p2 = figure(frame_width=1628, frame_height=432,
            x_range=Range1d(0, 1.6), y_range=Range1d(-2, 1),
            output_backend="svg", toolbar_location=None,
            min_border_left=262, min_border_right=60,
            min_border_top=35, min_border_bottom=200)
style(p2)
p2.scatter(x, r_e01, **RED)
p2.scatter(x, r_e04, **BLUE)
p2.xaxis.ticker = FixedTicker(ticks=x_ticks)
p2.xaxis.major_label_overrides = dict(zip(x_ticks, x_tick_labels))
p2.xaxis.axis_label = "inclination angle ι"
p2.xaxis.axis_label_standoff = 23
p2.yaxis.ticker = FixedTicker(ticks=bot_y_ticks)
p2.yaxis.major_label_overrides = dict(zip(bot_y_ticks, bot_y_tick_labels))
p2.yaxis.axis_label = "log₁₀(Rᵥ₉₉)"
p2.yaxis.axis_label_standoff = 18

layout = column(p1, p2)
open("out.html", "w").write(file_html(layout, INLINE))
